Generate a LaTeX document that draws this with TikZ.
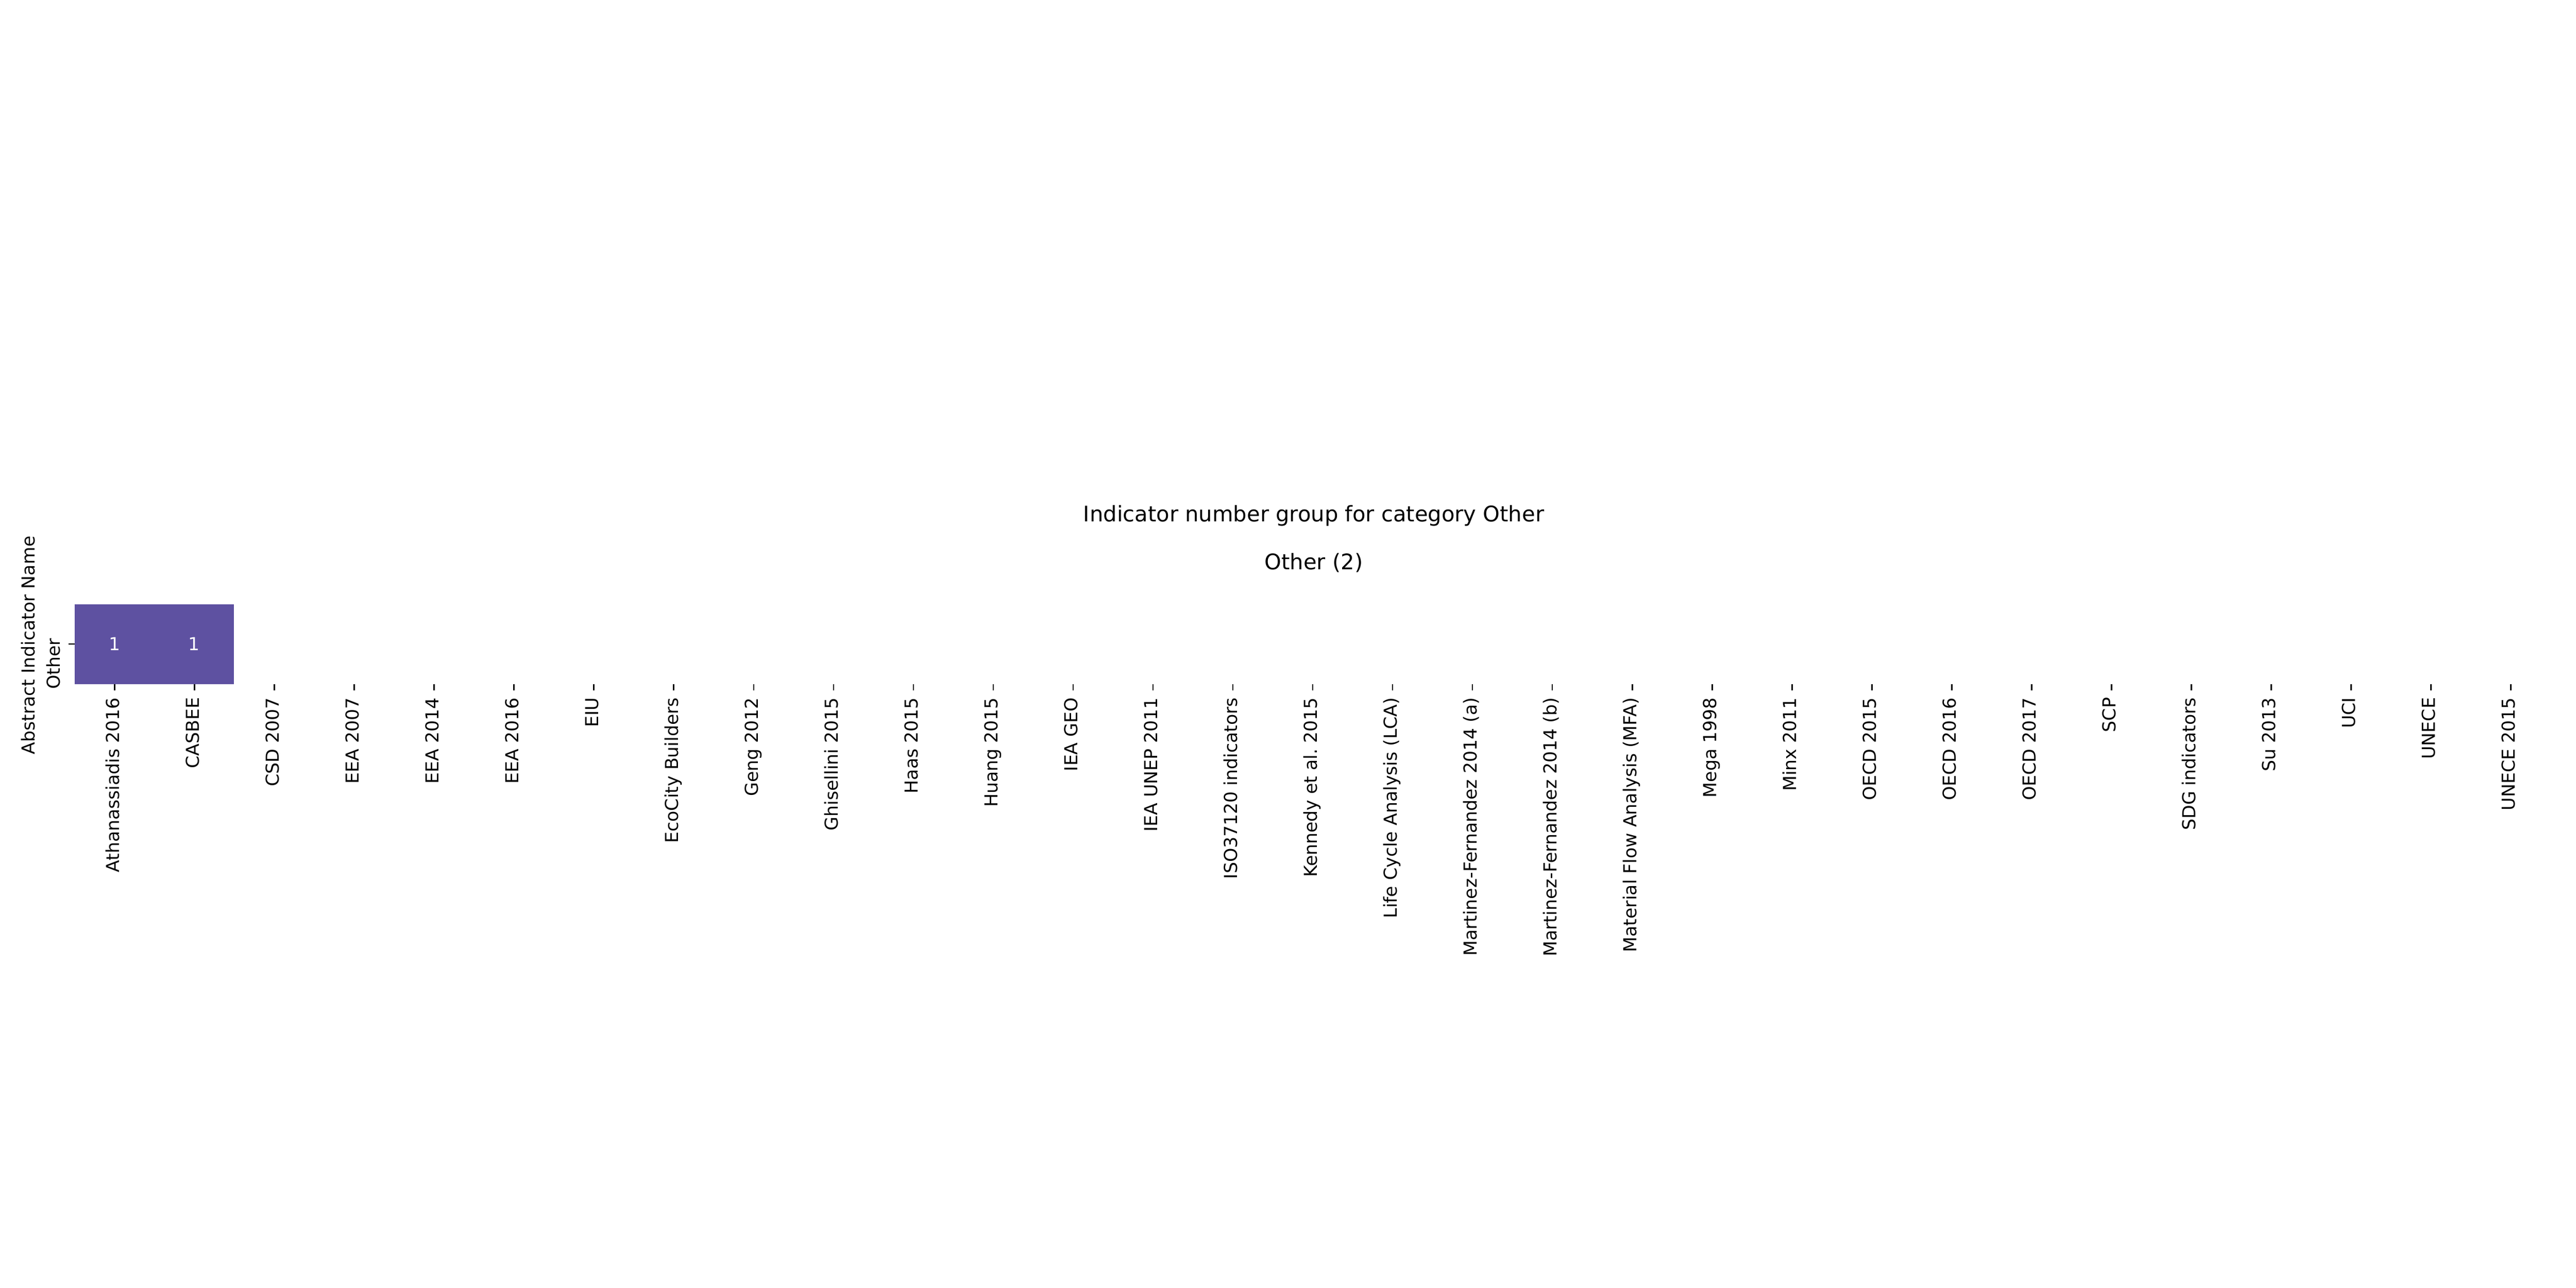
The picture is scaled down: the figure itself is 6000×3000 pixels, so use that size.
\documentclass[tikz,border=0pt]{standalone}
\usepackage{fontspec}
\setmainfont{DejaVu Sans}
\usepackage{tikz}
\usetikzlibrary{positioning}
\definecolor{cellpurple}{RGB}{94,81,161}

\begin{document}
\frenchspacing
\begin{tikzpicture}[x=0.24bp, y=-0.24bp,
    cell/.style={rectangle, fill=cellpurple, text=white, inner sep=0pt, outer sep=0pt,
        minimum width=44.65bp, minimum height=44.64bp, font=\fontsize{10.04}{12}\selectfont},
    tickline/.style={line width=0.8bp, black},
    xlab/.style={shift={(10,16.4)}, rotate=90, anchor=base east, inner sep=0pt,
        font=\fontsize{10.04}{12}\selectfont},
    ylab/.style={rotate=90, anchor=base, inner sep=0pt, font=\fontsize{10.04}{12}\selectfont},
    titletext/.style={anchor=base, inner sep=0pt, font=\fontsize{12.05}{14}\selectfont}]
    \useasboundingbox (0,0) rectangle (6000,3000);
    % Titles
    \node[titletext] (figTitle) at (3060,1215) {Indicator number group for category Other};
    \node[titletext] (axTitle) at (3060,1327) {Other (2)};
    % Cells
    \node[cell] (athCell) at (267.3,1500) {1};
    \node[cell, right=-0.3bp of athCell] (casbeeCell) {1};
    % Row label and axis name
    \draw[tickline] (athCell.west) -- ++(-14.6,0);
    \node[ylab] (otherRow) at (139.3,1546) {Other};
    \node[ylab] (axisName) at (81.5,1503) {Abstract Indicator Name};
    % Column ticks
    \foreach \i in {0,...,30}
        \draw[tickline] ({267.3+186.02*\i},1593) -- ++(0,14.6) coordinate (t\i);
    % Column labels
    \node[xlab] (athanassiadis) at (t0) {Athanassiadis 2016};
    \node[xlab] (casbee) at (t1) {CASBEE};
    \node[xlab] (csd) at (t2) {CSD 2007};
    \node[xlab] (eeaA) at (t3) {EEA 2007};
    \node[xlab] (eeaB) at (t4) {EEA 2014};
    \node[xlab] (eeaC) at (t5) {EEA 2016};
    \node[xlab] (eiu) at (t6) {EIU};
    \node[xlab] (ecocity) at (t7) {EcoCity Builders};
    \node[xlab] (geng) at (t8) {Geng 2012};
    \node[xlab] (ghisellini) at (t9) {Ghisellini 2015};
    \node[xlab] (haas) at (t10) {Haas 2015};
    \node[xlab] (huang) at (t11) {Huang 2015};
    \node[xlab] (ieaGeo) at (t12) {IEA GEO};
    \node[xlab] (ieaUnep) at (t13) {IEA UNEP 2011};
    \node[xlab] (iso) at (t14) {ISO37120 indicators};
    \node[xlab] (kennedy) at (t15) {Kennedy et al. 2015};
    \node[xlab] (lca) at (t16) {Life Cycle Analysis (LCA)};
    \node[xlab] (martinezA) at (t17) {Martinez-Fernandez 2014 (a)};
    \node[xlab] (martinezB) at (t18) {Martinez-Fernandez 2014 (b)};
    \node[xlab] (mfa) at (t19) {Material Flow Analysis (MFA)};
    \node[xlab] (mega) at (t20) {Mega 1998};
    \node[xlab] (minx) at (t21) {Minx 2011};
    \node[xlab] (oecdA) at (t22) {OECD 2015};
    \node[xlab] (oecdB) at (t23) {OECD 2016};
    \node[xlab] (oecdC) at (t24) {OECD 2017};
    \node[xlab] (scp) at (t25) {SCP};
    \node[xlab] (sdg) at (t26) {SDG indicators};
    \node[xlab] (su) at (t27) {Su 2013};
    \node[xlab] (uci) at (t28) {UCI};
    \node[xlab] (unece) at (t29) {UNECE};
    \node[xlab] (uneceB) at (t30) {UNECE 2015};
\end{tikzpicture}
\end{document}
